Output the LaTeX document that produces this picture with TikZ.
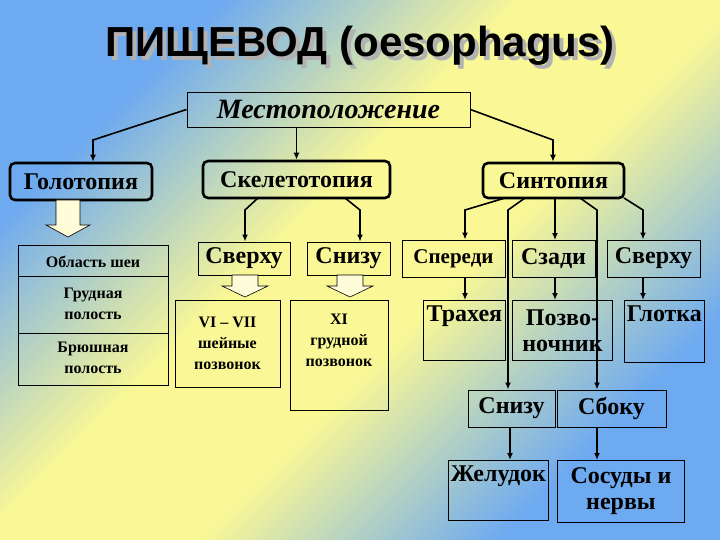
\documentclass[tikz,border=0pt]{standalone}
\usepackage{fontspec}
\setmainfont{Liberation Serif}
\newfontfamily\titlefont{Liberation Sans}
\usetikzlibrary{arrows.meta}
\definecolor{bgblue}{RGB}{110,170,240}
\definecolor{bgyel}{RGB}{250,248,150}
\pgfdeclarehorizontalshading{bgsh}{100bp}{color(0bp)=(bgblue); color(27bp)=(bgblue); color(44bp)=(bgyel); color(56bp)=(bgyel); color(73bp)=(bgblue); color(100bp)=(bgblue)}
\tikzset{
  bx/.style={draw=black, line width=0.9pt, inner sep=0pt, align=center, font=\bfseries\fontsize{24}{26}\selectfont},
  sm/.style={font=\bfseries\fontsize{16}{21}\selectfont},
  rbx/.style={bx, rounded corners=5pt, line width=2.6pt},
  ar/.style={line width=1.6pt, -{Latex[length=7pt,width=6pt]}},
  hollow/.style={draw=black, fill=white!85!yellow, line width=0.6pt}
}
\newcommand\bxat[6]{\node[#1, minimum width=#4pt-#2pt, minimum height=#5pt-#3pt] (#6) at ({(#2+#4)/2},{(#3+#5)/2})}
\begin{document}
\begin{tikzpicture}[x=1pt,y=-1pt]
\shade[shading=bgsh, shading angle=135] (0,0) rectangle (720,540);
\useasboundingbox (0,0) rectangle (720,540);
% title
\node[text=gray!60, font=\titlefont\bfseries\fontsize{42}{44}\selectfont] at (364,50) {ПИЩЕВОД (oesophagus)};
\node[font=\titlefont\bfseries\fontsize{42}{44}\selectfont] (title) at (360,46) {ПИЩЕВОД (oesophagus)};
% level 1
\bxat{bx,font=\bfseries\itshape\fontsize{28}{30}\selectfont}{187}{92}{470}{127}{mest} {Местоположение};
\bxat{rbx}{10}{163}{152}{200}{golo} {Голотопия};
\bxat{rbx}{203}{161}{390}{198}{skel} {Скелетотопия};
\bxat{rbx}{483}{163}{624}{198}{sint} {Синтопия};
\coordinate (m1) at (93,140); \coordinate (m2) at (553,140);
\draw[ar] (mest.west) -- (m1) -- (m1 |- golo.north);
\draw[ar] (mest.south -| skel.north) -- (skel.north);
\draw[ar] (mest.east) -- (m2) -- (m2 |- sint.north);
% Golotopia column
\draw[hollow] (56,200) -- (80,200) -- (80,225) -- (90,225) -- (68,237) -- (46,225) -- (56,225) -- cycle;
\bxat{bx,sm}{18}{245}{168}{385}{left} {};
\draw[line width=0.9pt] (18,276) -- (168,276) (18,333) -- (168,333);
\node[sm] (l1) at (93,262) {Область шеи};
\node[sm, align=center] (l2) at (93,304) {Грудная\\полость};
\node[sm, align=center] (l3) at (93,358) {Брюшная\\полость};
% Skeletotopia
\bxat{bx}{198}{242}{290}{275}{sv} {Сверху};
\bxat{bx}{307}{242}{390}{275}{sn} {Снизу};
\coordinate (s1) at (245,210); \coordinate (s2) at (360,210);
\draw[ar] (258,198) -- (s1) -- (s1 |- sv.north);
\draw[ar] (345,198) -- (s2) -- (s2 |- sn.north);
\draw[hollow] (232,275) -- (258,275) -- (258,286) -- (268,286) -- (245,297) -- (222,286) -- (232,286) -- cycle;
\draw[hollow] (337,275) -- (363,275) -- (363,286) -- (373,286) -- (350,297) -- (327,286) -- (337,286) -- cycle;
\bxat{bx,sm}{175}{300}{280}{387}{vi} {VI – VII\\шейные\\позвонок};
\bxat{bx,sm}{290}{300}{388}{410}{xi} {};
\node[sm, align=center] at (339,340) {XI\\грудной\\позвонок};
% Sintopia
\bxat{bx,font=\bfseries\fontsize{21}{23}\selectfont}{402}{240}{505}{277}{sp} {Спереди};
\bxat{bx}{512}{240}{595}{277}{sz} {Сзади};
\bxat{bx}{607}{240}{700}{277}{sv2} {Сверху};
\coordinate (t1) at (465,210); \coordinate (t3) at (643,210);
\draw[ar] (505,198) -- (t1) -- (t1 |- sp.north);
\draw[ar] (555,198) -- (555,240);
\draw[ar] (624,198) -- (t3) -- (t3 |- sv2.north);
\node[bx, minimum width=82pt, minimum height=60pt, anchor=north west, text depth=34pt] (tr) at (423,300) {Трахея};
\node[bx, minimum width=100pt, minimum height=60pt, anchor=north west] (pz) at (512,300) {Позво-\\ночник};
\node[bx, minimum width=80pt, minimum height=62pt, anchor=north west, text depth=36pt] (gl) at (624,300) {Глотка};
\draw[ar] (465,277) -- (465,300);
\draw[ar] (555,277) -- (555,300);
\draw[ar] (643,277) -- (643,300);
\bxat{bx}{468}{390}{555}{427}{sn2} {Снизу};
\bxat{bx}{557}{390}{666}{427}{sb} {Сбоку};
\coordinate (u1) at (508,210); \coordinate (u2) at (597,210);
\draw[ar] (525,198) -- (u1) -- (u1 |- sn2.north);
\draw[ar] (580,198) -- (u2) -- (u2 |- sb.north);
\node[bx, minimum width=100pt, minimum height=60pt, anchor=north west, text depth=34pt] (zh) at (448,460) {Желудок};
\node[bx, minimum width=127pt, minimum height=62pt, anchor=north west] (ss) at (557,460) {Сосуды и\\нервы};
\draw[ar] (510,427) -- (510,460);
\draw[ar] (597,427) -- (597,460);
\end{tikzpicture}
\end{document}
